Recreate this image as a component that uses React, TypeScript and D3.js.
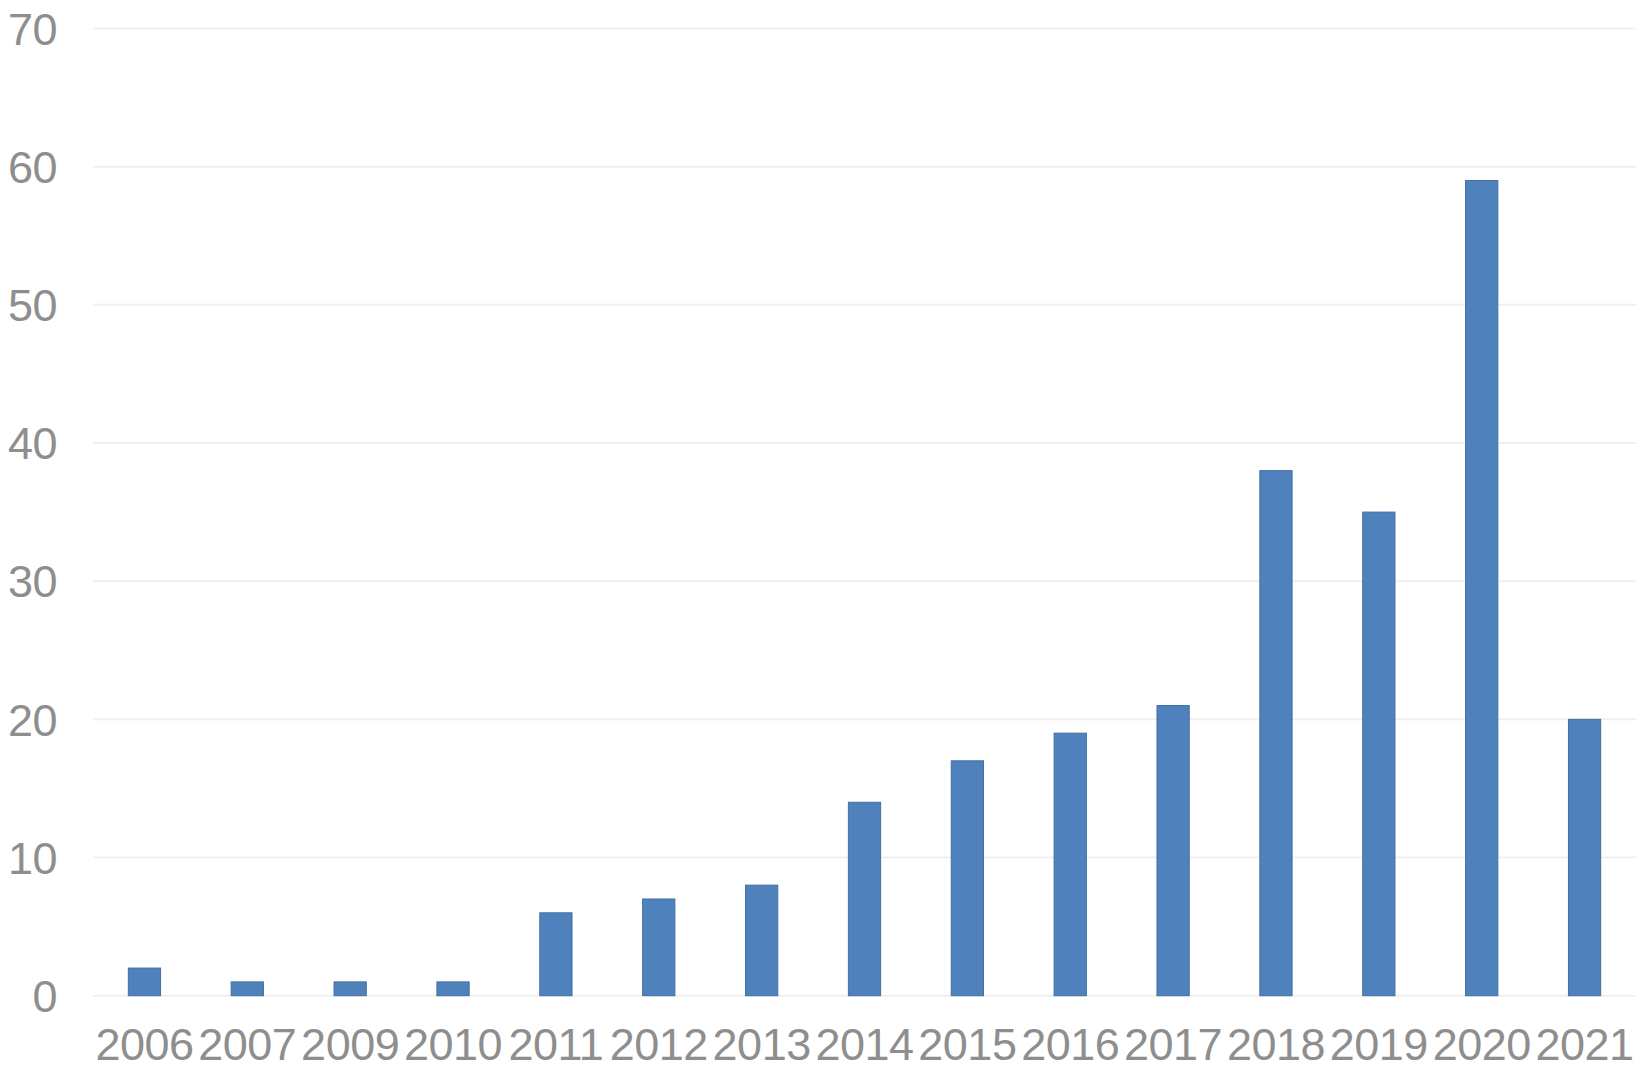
import React from "react";
import * as d3 from "d3";

const years = ["2006", "2007", "2009", "2010", "2011", "2012", "2013", "2014", "2015", "2016", "2017", "2018", "2019", "2020", "2021"];
const counts = [2, 1, 1, 1, 6, 7, 8, 14, 17, 19, 21, 38, 35, 59, 20];
const yTicks = [0, 10, 20, 30, 40, 50, 60, 70];

const W = 1650;
const H = 1077;
const left = 93;
const right = 1636;
const top = 28.5;
const bottom = 995.7;

export default function App() {
  const x = d3.scaleBand<string>().domain(years).range([left, right]).paddingInner(0.6865).paddingOuter(0.6865 / 2);
  const band = d3.scaleBand<string>().domain(years).range([left, right]);
  const y = d3.scaleLinear().domain([0, 70]).range([bottom, top]);
  const font = "'Liberation Sans', Arial, sans-serif";
  const labelColor = "#8e8e8e";
  return (
    <svg width={W} height={H} style={{ position: "absolute", left: 0, top: 0, background: "#fff" }}>
      {yTicks.map((t) => (
        <g key={t}>
          <line x1={left} x2={right} y1={y(t)} y2={y(t)} stroke="#efefef" strokeWidth={2} />
          <text x={57} y={y(t)} dy="0.36em" textAnchor="end" fontFamily={font} fontSize={45} letterSpacing={-0.5} fill={labelColor}>
            {t}
          </text>
        </g>
      ))}
      {years.map((yr, i) => (
        <rect
          key={yr}
          x={x(yr)}
          y={y(counts[i])}
          width={x.bandwidth()}
          height={y(0) - y(counts[i])}
          fill="#4f81bd"
          stroke="#42709f"
          strokeWidth={1}
        />
      ))}
      {years.map((yr) => (
        <text
          key={yr}
          x={(band(yr) as number) + band.bandwidth() / 2}
          y={1044}
          dy="0.36em"
          textAnchor="middle"
          fontFamily={font}
          fontSize={45}
          letterSpacing={-0.5}
          fill={labelColor}
        >
          {yr}
        </text>
      ))}
    </svg>
  );
}
